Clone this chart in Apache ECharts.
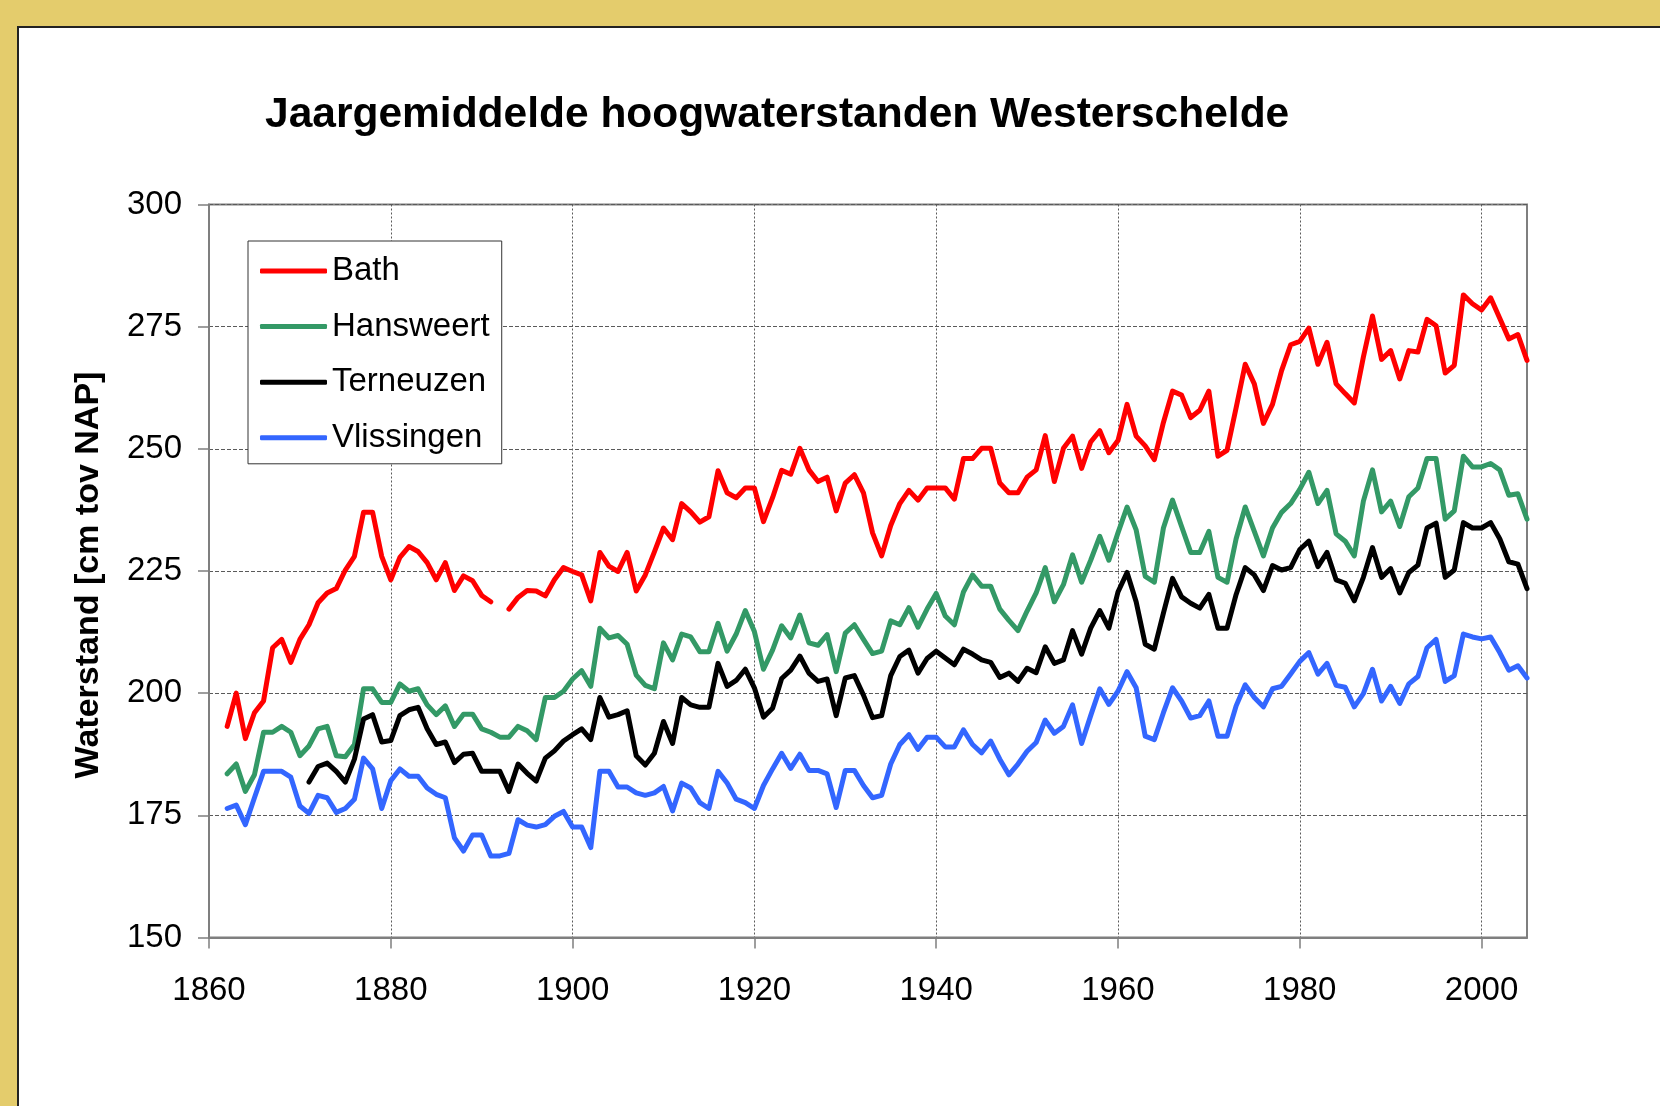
<!DOCTYPE html>
<html>
<head>
<meta charset="utf-8">
<title>Jaargemiddelde hoogwaterstanden Westerschelde</title>
<script src="https://cdn.jsdelivr.net/npm/echarts@6/dist/echarts.min.js"></script>
<style>
    html, body { margin: 0; padding: 0; background: #E4CC6C; }
    #chart { width: 1660px; height: 1106px; }
</style>
</head>
<body>
<div id="chart"></div>
<script>
// jaargemiddelde hoogwaterstanden (cm t.o.v. NAP), 1862 t/m 2005
const firstYear = 1862;
const xTicks = [1860, 1880, 1900, 1920, 1940, 1960, 1980, 2000];

const bath = [
    193.2, 200, 190.7, 196, 198.4, 209.3, 211, 206.3, 211, 214,
    218.5, 220.5, 221.4, 225.2, 228, 237, 237, 228, 223.2, 227.8,
    230, 229, 226.7, 223.2, 226.7, 221, 224, 223, 220, 218.7,
    null, 217.2, 219.6, 221, 220.9, 219.9, 223.2, 225.7, 224.9, 224.2,
    218.9, 228.8, 226, 224.9, 228.8, 220.9, 224.2, 228.9, 233.8, 231.4,
    238.8, 237.1, 235, 236.1, 245.5, 241, 240, 242, 242, 235.1,
    240, 245.6, 244.8, 250.1, 245.7, 243.3, 244.2, 237.3, 243, 244.7,
    241, 232.8, 228.1, 234.3, 238.8, 241.5, 239.5, 242, 242, 242,
    239.7, 248, 248, 250.1, 250.1, 243, 241, 241, 244.2, 245.7,
    252.7, 243.3, 250.1, 252.6, 246, 251.4, 253.7, 249.2, 251.7, 259.1,
    252.6, 250.6, 247.8, 255.4, 261.8, 261, 256.4, 257.9, 261.8, 248.5,
    249.7, 258.4, 267.3, 263.3, 255.2, 259.1, 266, 271.3, 272, 274.7,
    267.3, 271.8, 263.3, 261.3, 259.4, 268.8, 277.2, 268.3, 270.1, 264.3,
    270.1, 269.8, 276.5, 275.2, 265.5, 267.1, 281.5, 279.7, 278.4, 280.9,
    276.7, 272.5, 273.4, 268.1
];

const hansweert = [
    183.5, 185.5, 179.9, 183.3, 192, 192, 193.2, 192, 187.2, 189.2,
    192.7, 193.2, 187.2, 187, 189.5, 200.9, 200.9, 198.1, 198.1, 201.9,
    200.4, 200.9, 197.6, 195.6, 197.4, 193.2, 195.7, 195.7, 192.7, 192,
    191, 191, 193.2, 192.3, 190.5, 199.1, 199.1, 200.4, 202.9, 204.6,
    201.4, 213.3, 211.3, 211.8, 210, 203.7, 201.6, 200.9, 210.3, 206.8,
    212.1, 211.5, 208.5, 208.5, 214.3, 208.6, 212.1, 216.9, 212.6, 204.9,
    208.8, 213.8, 211.3, 216, 210.3, 209.8, 212, 204.4, 212.3, 214,
    211, 208.1, 208.6, 214.8, 214, 217.5, 213.5, 217.2, 220.4, 215.8,
    214, 220.7, 224.2, 221.9, 221.9, 217.2, 214.9, 212.8, 216.8, 220.5,
    225.7, 218.7, 222.2, 228.3, 222.7, 227.2, 232.1, 227.2, 232.8, 238.1,
    233.4, 223.9, 222.7, 233.8, 239.5, 234.1, 228.8, 228.8, 233.1, 223.7,
    222.7, 231.6, 238.1, 233.1, 228.1, 233.8, 237, 238.8, 241.7, 245.2,
    238.8, 241.5, 232.6, 231.1, 228.1, 239.3, 245.7, 237.1, 239.3, 234.1,
    240.2, 242, 248, 248, 235.6, 237.3, 248.5, 246.3, 246.3, 247,
    245.7, 240.5, 240.8, 235.6
];

const terneuzen = [
    null, null, null, null, null, null, null, null, null, 181.8,
    185, 185.7, 184, 181.8, 186.5, 194.7, 195.6, 190, 190.3, 195.4,
    196.6, 197.1, 192.7, 189.5, 190, 185.8, 187.5, 187.7, 184, 184,
    184, 179.9, 185.5, 183.6, 182, 186.7, 188.2, 190.2, 191.5, 192.7,
    190.5, 199.1, 195.1, 195.6, 196.4, 187.2, 185.3, 187.7, 194.2, 189.7,
    199.1, 197.6, 197.1, 197.1, 206.1, 201.4, 202.6, 204.9, 201.1, 195.1,
    196.9, 203, 204.7, 207.6, 204.1, 202.4, 202.9, 195.4, 203.1, 203.6,
    199.6, 195, 195.4, 203.6, 207.5, 208.8, 204.1, 207.1, 208.6, 207.2,
    205.8, 209, 208, 206.8, 206.3, 203.2, 204.1, 202.4, 205.1, 204.2,
    209.5, 206.1, 206.8, 212.8, 208, 213.3, 216.9, 213.3, 220.7, 224.7,
    218.7, 210, 209, 216.4, 223.5, 219.7, 218.4, 217.4, 220.2, 213.3,
    213.3, 220.2, 225.7, 224.2, 221, 226.1, 225.2, 225.7, 229.4, 231.1,
    225.9, 228.8, 223.2, 222.5, 218.9, 223.7, 229.8, 223.7, 225.5, 220.5,
    224.7, 226.2, 233.8, 234.8, 223.7, 225.2, 234.9, 233.8, 233.8, 234.9,
    231.6, 226.9, 226.4, 221.4
];

const vlissingen = [
    176.4, 177.1, 173.1, 178.6, 184, 184, 184, 182.8, 176.9, 175.4,
    179.1, 178.6, 175.6, 176.4, 178.3, 186.7, 184.5, 176.4, 182.1, 184.5,
    183, 183, 180.6, 179.3, 178.6, 170.4, 167.7, 171, 171, 166.7,
    166.7, 167.2, 174.1, 173, 172.6, 173.1, 174.8, 175.8, 172.6, 172.6,
    168.4, 184, 184, 180.8, 180.8, 179.6, 179.1, 179.6, 180.9, 175.9,
    181.6, 180.6, 177.6, 176.4, 184, 181.6, 178.3, 177.6, 176.4, 181.1,
    184.5, 187.7, 184.6, 187.5, 184.2, 184.2, 183.5, 176.6, 184.2, 184.2,
    181.1, 178.6, 179.1, 185.5, 189.5, 191.5, 188.5, 191, 191, 189,
    189, 192.5, 189.5, 187.8, 190.2, 186.5, 183.3, 185.5, 188.1, 189.9,
    194.5, 191.8, 193.2, 197.6, 189.7, 195.4, 200.9, 197.7, 200.4, 204.4,
    201.1, 191.2, 190.5, 196, 201.1, 198.4, 194.9, 195.4, 198.4, 191.2,
    191.2, 197.4, 201.7, 199.1, 197.2, 200.9, 201.4, 203.9, 206.5, 208.3,
    203.9, 206.1, 201.6, 201.2, 197.2, 199.9, 204.9, 198.4, 201.4, 197.9,
    201.9, 203.4, 209.3, 211, 202.4, 203.6, 212.1, 211.5, 211.1, 211.5,
    208.3, 204.7, 205.6, 203.1
];

const years = bath.map((_, i) => firstYear + i);
const pairs = values => values.map((v, i) => [years[i], v]);

const FONT = "'Liberation Sans', Arial, sans-serif";
const GRID_GRAY = "#5a5a5a";
const AXIS_GRAY = "#7f7f7f";

const chart = echarts.init(document.getElementById("chart"), null, { renderer: "canvas" });

const makeSeries = (name, values, color) => ({
    name: name,
    type: "line",
    data: pairs(values),
    symbol: "none",
    connectNulls: false,
    color: color,
    lineStyle: { color: color, width: 5, join: "round", cap: "round" },
    emphasis: { disabled: true },
    z: 3,
});

chart.setOption({
    backgroundColor: "#E4CC6C",
    animation: false,
    graphic: [
        {
            type: "rect",
            z: -10,
            silent: true,
            shape: { x: 18, y: 27, width: 1700, height: 1200 },
            style: { fill: "#ffffff", stroke: "#222222", lineWidth: 2 },
        },
        {
            type: "text",
            z: 5,
            x: 265,
            y: 115,
            style: {
                text: "Jaargemiddelde hoogwaterstanden Westerschelde",
                font: "bold 42.5px " + FONT,
                fill: "#000",
                align: "left",
                verticalAlign: "middle",
            },
        },
        {
            type: "text",
            z: 5,
            x: 89,
            y: 575,
            rotation: Math.PI / 2,
            style: {
                text: "Waterstand [cm tov NAP]",
                font: "bold 34px " + FONT,
                fill: "#000",
                align: "center",
                verticalAlign: "middle",
            },
        },
    ],
    legend: {
        orient: "vertical",
        left: 248,
        top: 241,
        padding: [12, 12, 8, 12],
        icon: "roundRect",
        itemWidth: 67,
        itemHeight: 5,
        itemGap: 19.6,
        backgroundColor: "#ffffff",
        borderColor: "#333333",
        borderWidth: 1,
        selectedMode: false,
        textStyle: {
            fontFamily: FONT,
            fontSize: 33,
            lineHeight: 36,
            color: "#000",
        },
        data: ["Bath", "Hansweert", "Terneuzen", "Vlissingen"],
        z: 10,
    },
    grid: {
        left: 209,
        top: 204.5,
        width: 1318,
        height: 733,
        show: true,
        borderColor: AXIS_GRAY,
        borderWidth: 2,
        backgroundColor: "transparent",
        outerBoundsMode: "none",
    },
    xAxis: {
        type: "value",
        min: 1860,
        max: 2005,
        interval: 20,
        axisLine: { lineStyle: { color: AXIS_GRAY, width: 2 } },
        axisTick: { show: true, length: 11, customValues: xTicks, lineStyle: { color: AXIS_GRAY, width: 1.5 } },
        axisLabel: {
            customValues: xTicks,
            margin: 37,
            color: "#000",
            fontFamily: FONT,
            fontSize: 33,
            formatter: v => String(v),
        },
        splitLine: { show: true, lineStyle: { color: GRID_GRAY, width: 1, type: [2, 2] } },
    },
    yAxis: {
        type: "value",
        min: 150,
        max: 300,
        interval: 25,
        axisLine: { show: true, lineStyle: { color: AXIS_GRAY, width: 2 } },
        axisTick: { show: true, length: 11, lineStyle: { color: AXIS_GRAY, width: 1.5 } },
        axisLabel: {
            margin: 27,
            color: "#000",
            fontFamily: FONT,
            fontSize: 33,
        },
        splitLine: { show: true, lineStyle: { color: GRID_GRAY, width: 1, type: [4, 2] } },
    },
    series: [
        makeSeries("Bath", bath, "#FF0000"),
        makeSeries("Hansweert", hansweert, "#339966"),
        makeSeries("Terneuzen", terneuzen, "#000000"),
        makeSeries("Vlissingen", vlissingen, "#3366FF"),
    ],
});
</script>
</body>
</html>
